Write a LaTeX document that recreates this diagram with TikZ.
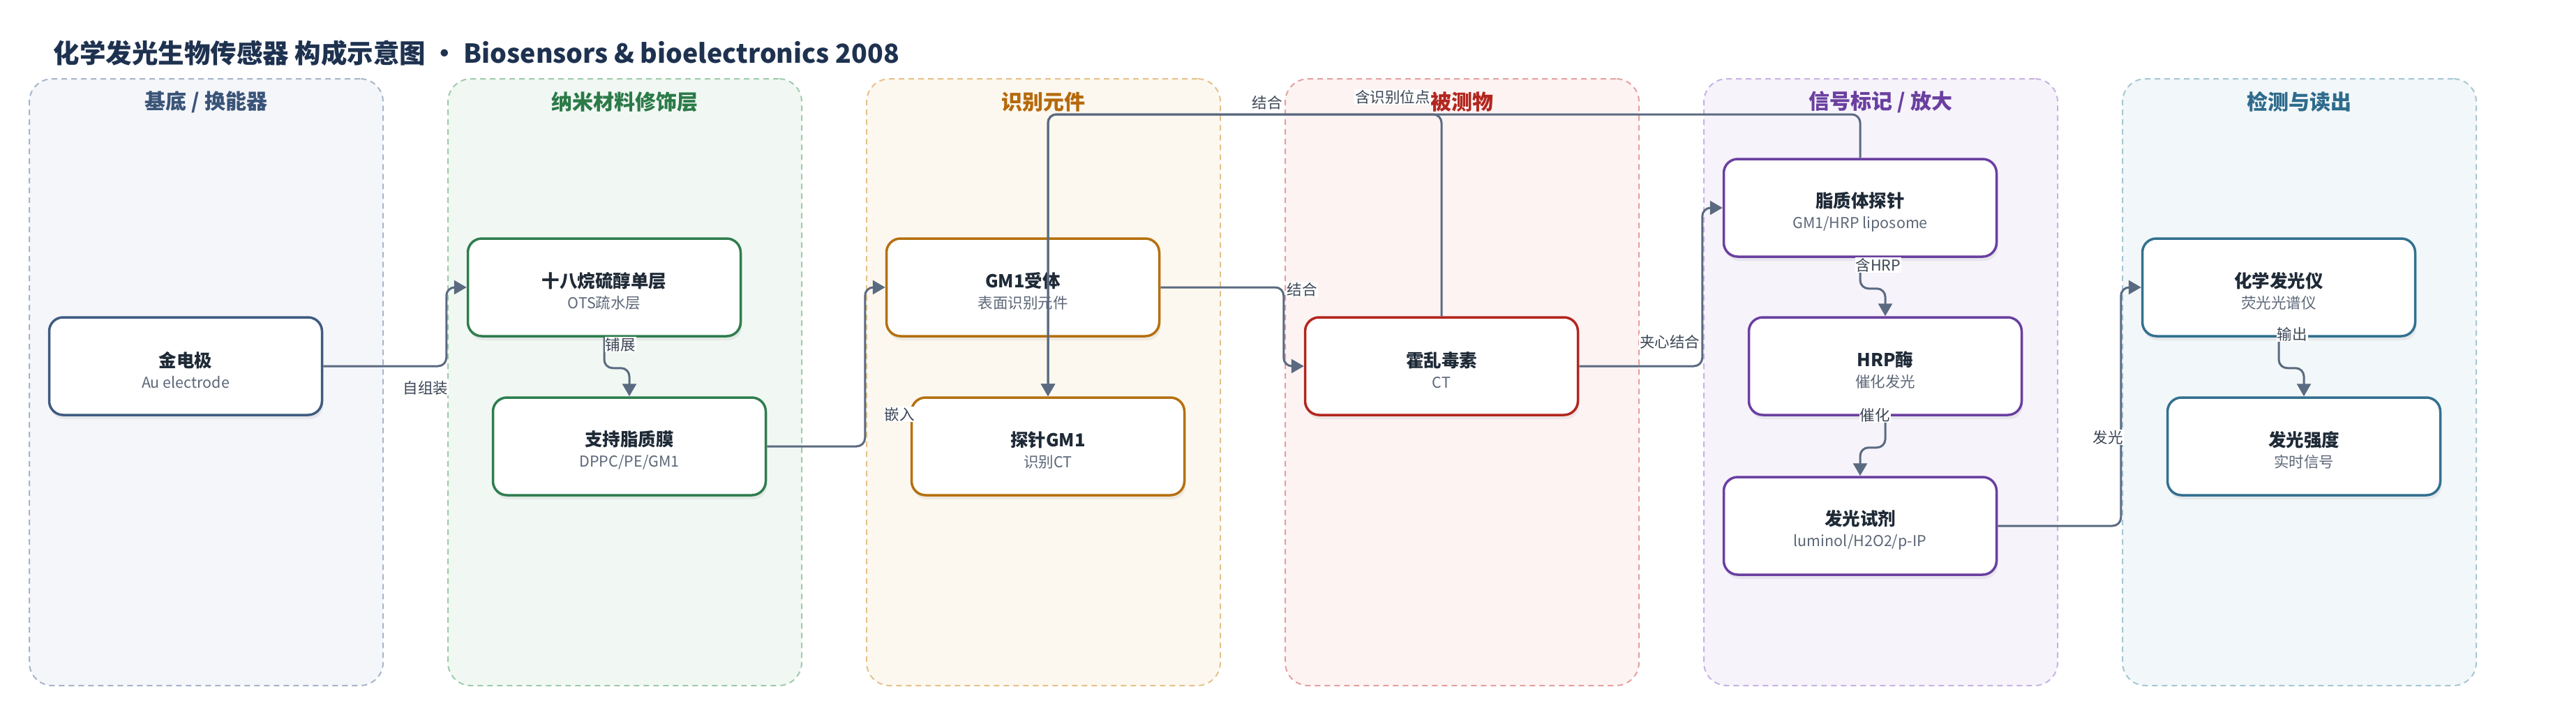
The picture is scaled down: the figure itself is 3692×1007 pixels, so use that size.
\documentclass[tikz,border=0pt]{standalone}
\usepackage{fontspec}
\setmainfont{Noto Sans CJK SC}
\usetikzlibrary{arrows.meta,shadows,positioning}

\definecolor{titlec}{HTML}{1E3250}
\definecolor{boxtxt}{HTML}{1F2A37}
\definecolor{subc}{HTML}{5D6778}
\definecolor{linec}{HTML}{5A6A80}
\definecolor{lblc}{HTML}{3C4656}
% lane colours: heading / fill / dashed border / box border
\definecolor{subH}{HTML}{3A5478}\definecolor{subF}{HTML}{F4F6FA}\definecolor{subB}{HTML}{A7B5C9}\definecolor{subX}{HTML}{3F5B80}
\definecolor{nanoH}{HTML}{2B7A48}\definecolor{nanoF}{HTML}{F1F8F3}\definecolor{nanoB}{HTML}{9FCBAB}\definecolor{nanoX}{HTML}{2F7D4E}
\definecolor{recH}{HTML}{B5690C}\definecolor{recF}{HTML}{FDF8EF}\definecolor{recB}{HTML}{E5C189}\definecolor{recX}{HTML}{B5700F}
\definecolor{anaH}{HTML}{B3261E}\definecolor{anaF}{HTML}{FDF3F3}\definecolor{anaB}{HTML}{E5A0A0}\definecolor{anaX}{HTML}{B3261E}
\definecolor{sigH}{HTML}{6A3FA0}\definecolor{sigF}{HTML}{F6F3FB}\definecolor{sigB}{HTML}{C8B3E2}\definecolor{sigX}{HTML}{6A3FA0}
\definecolor{detH}{HTML}{2E6B8C}\definecolor{detF}{HTML}{F2F7F9}\definecolor{detB}{HTML}{A6C7D4}\definecolor{detX}{HTML}{33708F}

\newcommand{\twoline}[2]{{\fontsize{25.5}{30}\selectfont\bfseries\rule{0pt}{33pt}#1}\\{\color{subc}#2}}

\begin{document}
\begin{tikzpicture}[
    x=1pt, y=-1pt,
    lane/.style={rectangle, rounded corners=33pt, dashed, dash pattern=on 8pt off 6pt, line width=2pt, minimum width=507pt, minimum height=870pt},
    head/.style={font=\fontsize{30}{36}\selectfont\bfseries},
    box/.style={rectangle, rounded corners=20pt, draw, line width=3.5pt, fill=white, minimum width=391pt, minimum height=140pt, align=center, text=boxtxt, font=\fontsize{21.5}{30}\selectfont, drop shadow={shadow xshift=2pt, shadow yshift=-6pt, opacity=0.12}},
    arrow/.style={-{Triangle[length=18pt,width=20pt]}, line width=3pt, draw=linec, rounded corners=12pt},
    lbl/.style={font=\fontsize{21.5}{24}\selectfont, text=lblc, fill=white, inner sep=1pt}
]
\useasboundingbox[fill=white] (0,0) rectangle (3692,1007);

% Title
\node[anchor=west, font=\fontsize{37.5}{44}\selectfont\bfseries, text=titlec] (title) at (73,76) {化学发光生物传感器 构成示意图 · Biosensors \& bioelectronics 2008};

% Lanes
\node[lane, draw=subB, fill=subF] (sub) at (295.5,548) {};
\node[lane, draw=nanoB, fill=nanoF] (nano) at (895.5,548) {};
\node[lane, draw=recB, fill=recF] (rec) at (1495.5,548) {};
\node[lane, draw=anaB, fill=anaF] (ana) at (2095.5,548) {};
\node[lane, draw=sigB, fill=sigF] (sig) at (2695.5,548) {};
\node[lane, draw=detB, fill=detF] (det) at (3295.5,548) {};

\node[head, text=subH] (subh) at (295.5,146) {基底 / 换能器};
\node[head, text=nanoH] (nanoh) at (895.5,146) {纳米材料修饰层};
\node[head, text=recH] (rech) at (1495.5,146) {识别元件};
\node[head, text=anaH] (anah) at (2095.5,146) {被测物};
\node[head, text=sigH] (sigh) at (2695.5,146) {信号标记 / 放大};
\node[head, text=detH] (deth) at (3295.5,146) {检测与读出};

% Substrate
\node[box, draw=subX] (au) at (266,525) {\twoline{金电极}{Au electrode}};

% Nano layer
\node[box, draw=nanoX] (ots) at (866,412) {\twoline{十八烷硫醇单层}{OTS疏水层}};
\node[box, draw=nanoX] (lipid) at (902,640) {\twoline{支持脂质膜}{DPPC/PE/GM1}};

% Recognition
\node[box, draw=recX] (gm1r) at (1466,412) {\twoline{GM1受体}{表面识别元件}};
\node[box, draw=recX] (probe) at (1502,640) {\twoline{探针GM1}{识别CT}};

% Analyte
\node[box, draw=anaX] (ct) at (2066,525) {\twoline{霍乱毒素}{CT}};

% Signal
\node[box, draw=sigX] (lipo) at (2666,298) {\twoline{脂质体探针}{GM1/HRP liposome}};
\node[box, draw=sigX] (hrp) at (2702,525) {\twoline{HRP酶}{催化发光}};
\node[box, draw=sigX] (lum) at (2666,754) {\twoline{发光试剂}{luminol/H2O2/p-IP}};

% Readout
\node[box, draw=detX] (cl) at (3266,412) {\twoline{化学发光仪}{荧光光谱仪}};
\node[box, draw=detX] (inten) at (3302,640) {\twoline{发光强度}{实时信号}};

% Connectors
\coordinate (bus) at (1502,164);
\draw[arrow] (au.east) -| ([xshift=-29pt]ots.west) -- (ots.west);
\draw[arrow] (ots.south) -- ++(0,44) -| (lipid.north);
\draw[arrow] (lipid.east) -| ([xshift=-29pt]gm1r.west) -- (gm1r.west);
\draw[arrow] (gm1r.east) -| ([xshift=-29pt]ct.west) -- (ct.west);
\draw[arrow] (ct.east) -| ([xshift=-29pt]lipo.west) -- (lipo.west);
\draw[arrow] (ct.north) |- (bus) -- (probe.north);
\draw[arrow] (lipo.north) |- (bus) -- (probe.north);
\draw[arrow] (lipo.south) -- ++(0,44) -| (hrp.north);
\draw[arrow] (hrp.south) -- ++(0,45) -| (lum.north);
\draw[arrow] (lum.east) -| ([xshift=-29pt]cl.west) -- (cl.west);
\draw[arrow] (cl.south) -- ++(0,44) -| (inten.north);

% Connector labels
\node[lbl] (l1) at (610,556) {自组装};
\node[lbl] (l2) at (889,494) {铺展};
\node[lbl] (l3) at (1289,594) {嵌入};
\node[lbl] (l4) at (1866,415) {结合};
\node[lbl] (l5) at (1996,139) {含识别位点};
\node[lbl] (l6) at (1816,147) {结合};
\node[lbl] (l7) at (2393,490) {夹心结合};
\node[lbl] (l8) at (2692,380) {含HRP};
\node[lbl] (l9) at (2687,595) {催化};
\node[lbl] (l10) at (3021,627) {发光};
\node[lbl] (l11) at (3285,479) {输出};

\end{tikzpicture}
\end{document}
